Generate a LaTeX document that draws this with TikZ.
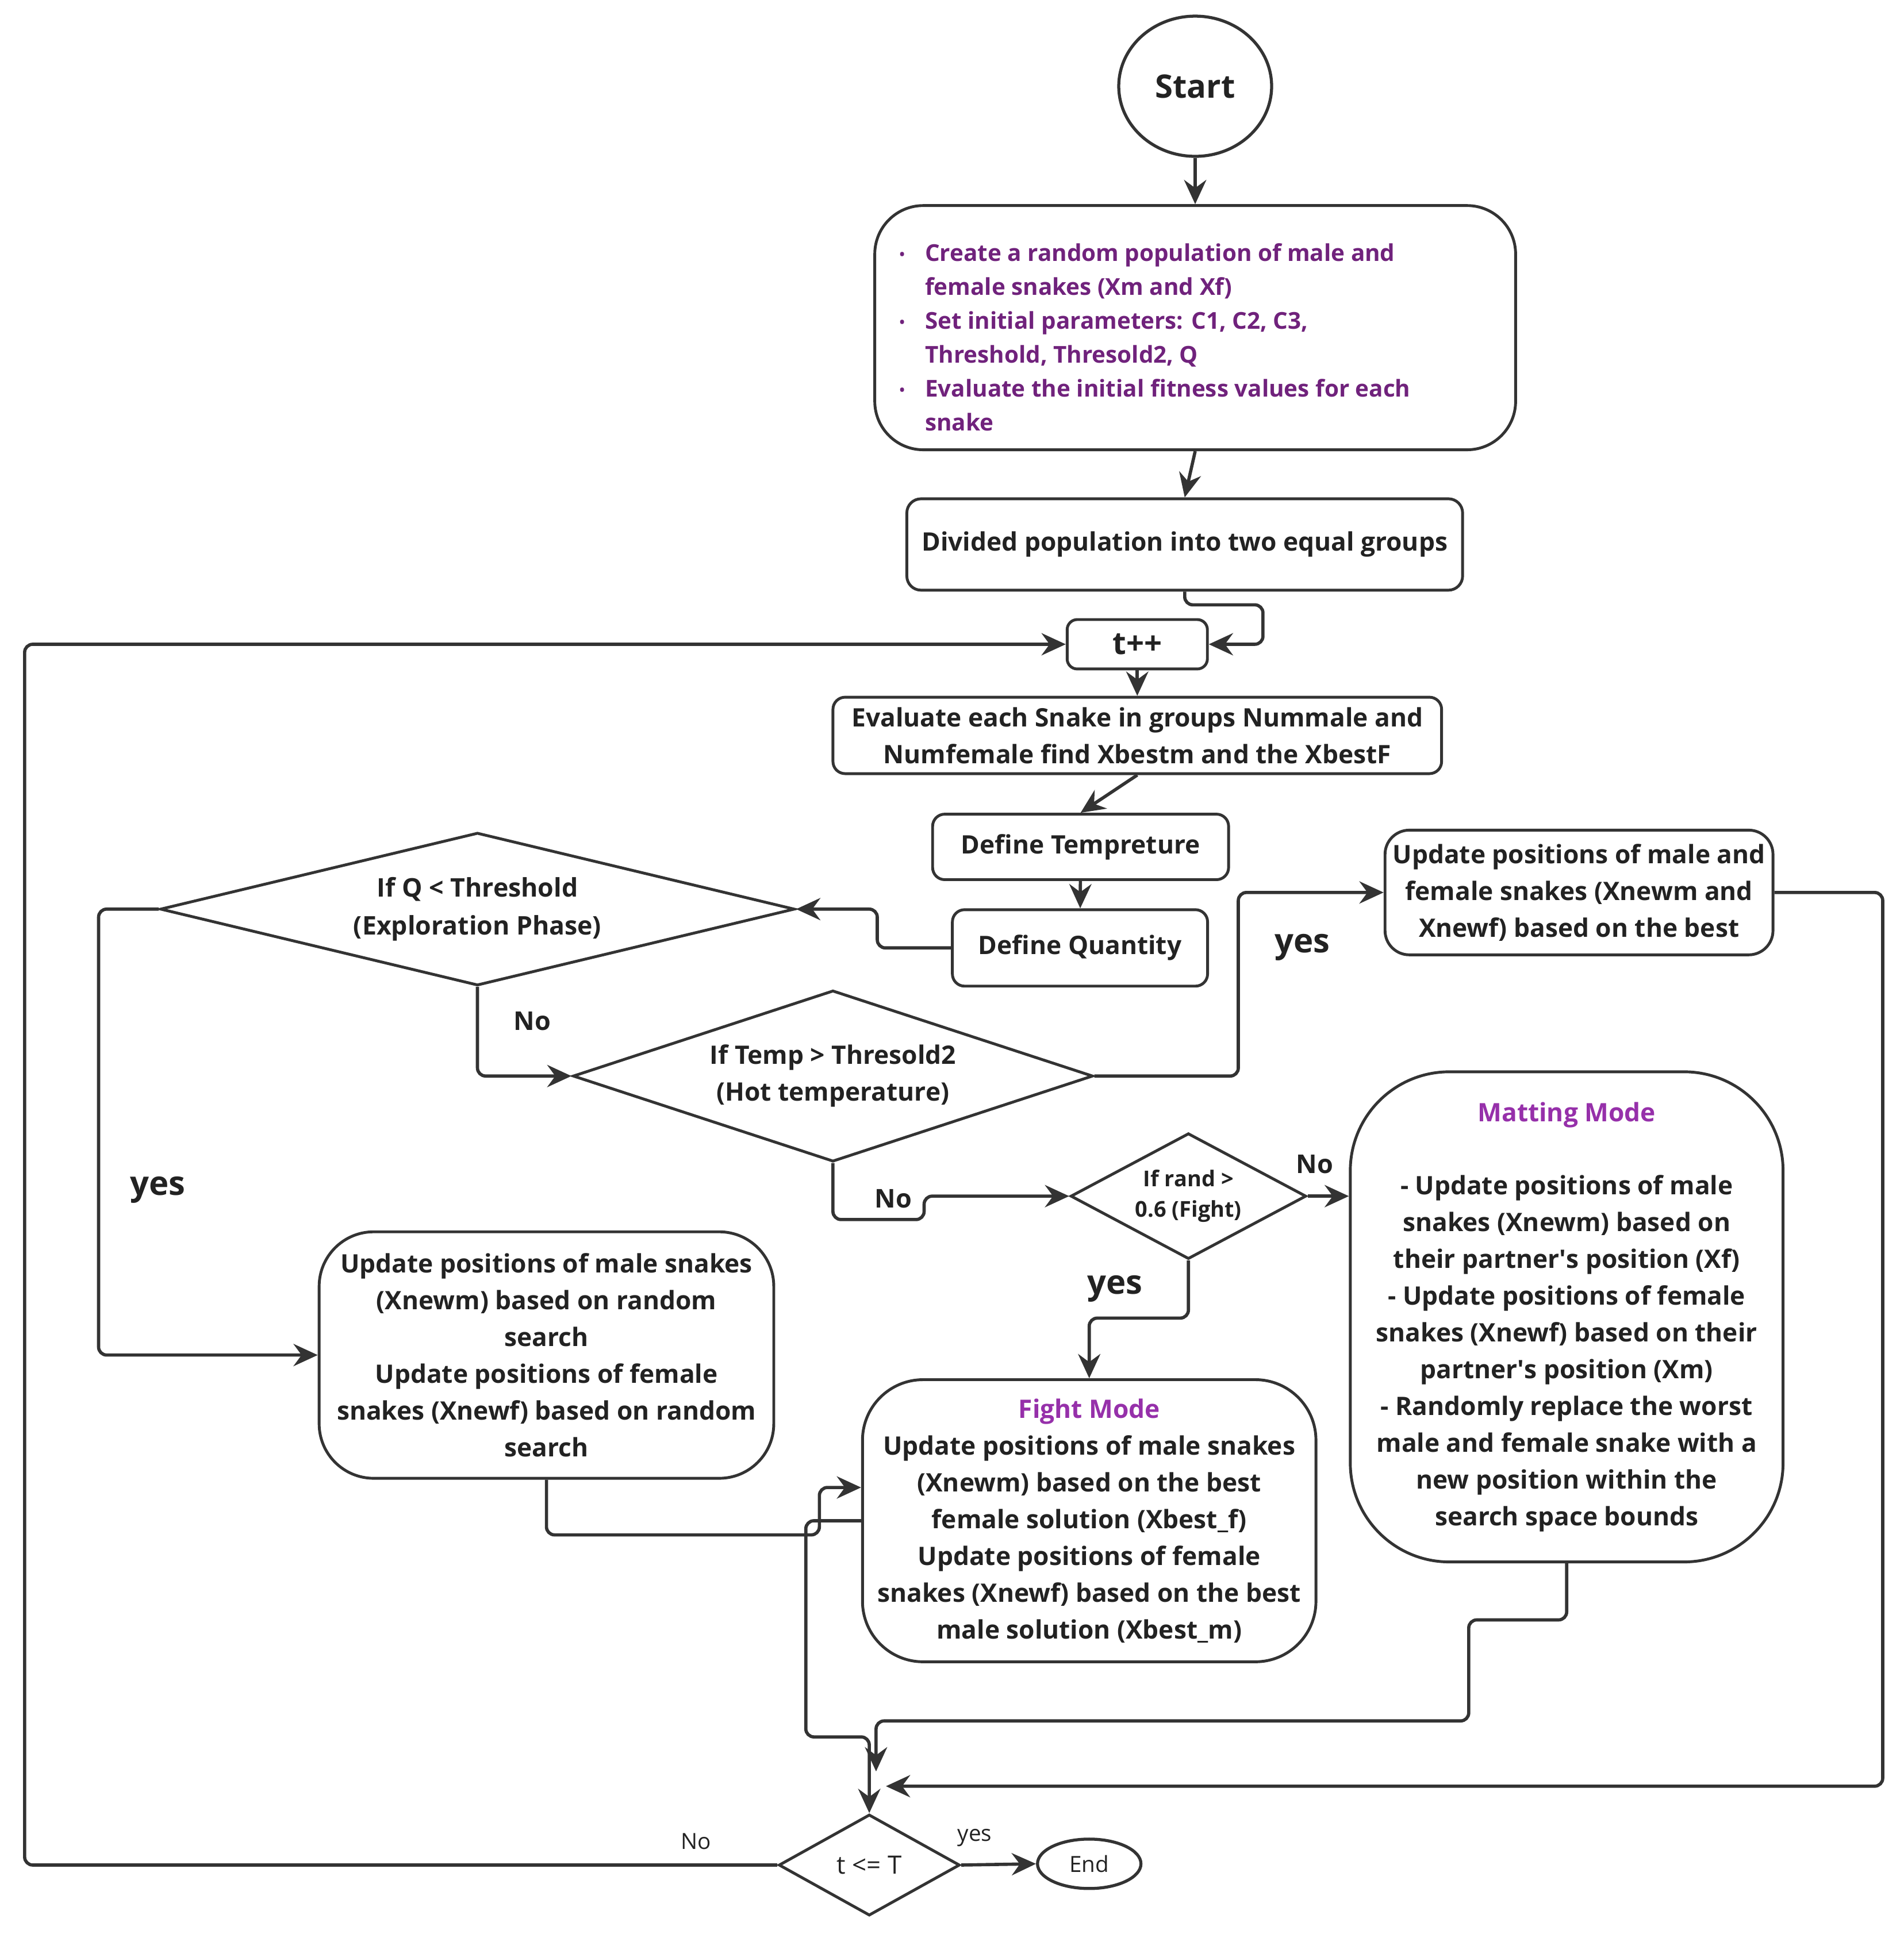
\documentclass[tikz,border=0pt]{standalone}
\usepackage{fontspec}
\setmainfont{Open Sans}
\usetikzlibrary{shapes.geometric,arrows.meta,calc}

\definecolor{lineg}{RGB}{51,51,51}
\definecolor{txtg}{RGB}{34,34,34}
\definecolor{purp}{RGB}{112,34,124}
\definecolor{modep}{RGB}{150,48,170}

\newcommand{\blt}{\makebox[1.1em][l]{\raisebox{0.15ex}{\scriptsize\textbullet}}}

\begin{document}
\begin{tikzpicture}[x=0.02144cm,y=-0.02144cm,
	every node/.style={text=txtg},
	txt/.style={font=\bfseries\fontsize{12.6}{18.2}\selectfont},
	proc/.style={draw=lineg,line width=1.4pt,fill=white,align=center,inner sep=2pt,txt},
	cond/.style={diamond,draw=lineg,line width=1.4pt,align=center,inner sep=0pt,txt},
	arr/.style={draw=lineg,line width=1.6pt,rounded corners=4pt,-{Stealth[length=12pt,width=11pt,inset=4pt]}},
	bigyes/.style={font=\bfseries\fontsize{16.5}{18}\selectfont},
	midno/.style={font=\bfseries\fontsize{12.8}{14}\selectfont},
	smalllab/.style={font=\fontsize{11}{13}\selectfont}]
	\useasboundingbox (0,0) rectangle (1545,1570);

	% start and set-up
	\node[ellipse,draw=lineg,line width=1.5pt,minimum width=2.66cm,minimum height=2.44cm,font=\bfseries\fontsize{16}{18}\selectfont] (start) at (970,70) {Start};
	\node[proc,rounded corners=24pt,minimum width=11.15cm,minimum height=4.25cm,text=purp,font=\bfseries\fontsize{11.5}{16.8}\selectfont] (init) at (970,266)
		{\raisebox{-0.17cm}[\height][\depth]{\parbox{10.29cm}{\raggedright
		 \blt Create a random population of male and\\\hspace*{1.1em}female snakes (Xm and Xf)\\
		 \blt Set initial parameters: C1, C2, C3,\\\hspace*{1.1em}Threshold, Thresold2, Q\\
		 \blt Evaluate the initial fitness values for each\\\hspace*{1.1em}snake}}};
	\node[proc,rounded corners=7pt,minimum width=9.67cm,minimum height=1.59cm] (div) at (961.5,442) {Divided population into two equal groups};
	\node[proc,rounded corners=5pt,minimum width=2.44cm,minimum height=0.86cm,font=\bfseries\fontsize{15.5}{17}\selectfont] (tpp) at (923,523) {t++};
	\node[proc,rounded corners=6pt,minimum width=10.59cm,minimum height=1.33cm] (eval) at (923,597) {Evaluate each Snake in groups Nummale and\\Numfemale find Xbestm and the XbestF};
	\node[proc,rounded corners=6pt,minimum width=5.15cm,minimum height=1.14cm] (temp) at (877,687.5) {Define Tempreture};
	\node[proc,rounded corners=6pt,minimum width=4.44cm,minimum height=1.33cm] (qty) at (876.5,769.5) {Define Quantity};

	% decisions
	\node[cond,aspect=4.15,minimum width=11.04cm,minimum height=2.66cm,font=\bfseries\fontsize{12.7}{19}\selectfont] (dq) at (387.5,738) {If Q < Threshold\\(Exploration Phase)};
	\node[cond,aspect=3.04,minimum width=9.05cm,minimum height=2.98cm] (dt) at (676,873.5) {If Temp > Thresold2\\(Hot temperature)};
	\node[cond,aspect=1.87,minimum width=4.10cm,minimum height=2.19cm,font=\bfseries\fontsize{10.8}{15}\selectfont] (dr) at (964.5,971) {If rand >\\0.6 (Fight)};
	\node[cond,aspect=1.79,minimum width=3.15cm,minimum height=1.76cm,font=\fontsize{12.5}{14}\selectfont] (tt) at (705.5,1514) {t <= T};
	\node[ellipse,draw=lineg,line width=1.5pt,minimum width=1.80cm,minimum height=0.86cm,font=\fontsize{11}{13}\selectfont] (end) at (884,1513) {End};

	% update steps
	\node[proc,rounded corners=12pt,minimum width=6.75cm,minimum height=2.17cm] (best) at (1281.5,724.5) {Update positions of male and\\female snakes (Xnewm and\\Xnewf) based on the best};
	\node[proc,rounded corners=27pt,minimum width=7.91cm,minimum height=4.29cm] (rnd) at (443.5,1100)
		{Update positions of male snakes\\(Xnewm) based on random\\search\\Update positions of female\\snakes (Xnewf) based on random\\search};
	\node[proc,rounded corners=30pt,minimum width=7.89cm,minimum height=4.91cm] (fight) at (884,1234.5)
		{\textcolor{modep}{Fight Mode}\\Update positions of male snakes\\(Xnewm) based on the best\\female solution (Xbest\_f)\\Update positions of female\\snakes (Xnewf) based on the best\\male solution (Xbest\_m)};
	\node[proc,rounded corners=49pt,minimum width=7.53cm,minimum height=8.53cm] (mat) at (1271.5,1069)
		{\textcolor{modep}{Matting Mode}\\[18.2pt]- Update positions of male\\snakes (Xnewm) based on\\their partner\textquotesingle s position (Xf)\\ - Update positions of female\\snakes (Xnewf) based on their\\partner\textquotesingle s position (Xm)\\ - Randomly replace the worst\\male and female snake with a\\new position within the\\search space bounds};

	% branch labels
	\foreach \nm/\px/\py in {yq/128/966, yt/1057/769, yr/905/1046}
		\node[bigyes] (\nm) at (\px,\py) {yes};
	\foreach \nm/\px/\py in {nq/432/829, nt/725/973, nr/1067/945}
		\node[midno] (\nm) at (\px,\py) {No};
	\node[smalllab] (ntt) at (565,1495) {No};
	\node[smalllab] (ytt) at (791,1492) {yes};

	% loose ends near the check
	\coordinate (mj) at (711,1438);
	\coordinate (bj) at (719,1450);

	% connectors
	\draw[arr] (start) -- (init);
	\draw[arr] (init.south) -- (div.north);
	\draw[arr] (div.south) |- (1025,491) |- (tpp.east);
	\draw[arr] (tpp) -- (eval);
	\draw[arr] (eval.south) -- (temp.north);
	\draw[arr] (temp) -- (qty);
	\draw[arr] (qty.west) -- (712,769.5) |- (dq.east);
	\draw[arr] (dq.west) -- (80,738) |- (rnd.west);
	\draw[arr] (dq.south) |- (dt.west);
	\draw[arr] (dt.east) -- (1005,873.5) |- (best.west);
	\draw[arr] (dt.south) |- (750,990) |- (dr.west);
	\draw[arr] (dr.east) -- (mat.west |- dr.east);
	\draw[arr] (dr.south) -- (964.5,1070) -| (fight.north);
	\draw[arr] (rnd.south) |- (665,1246) |- ($(fight.west)+(0,-27)$);
	\draw[arr] (fight.west) -| (654,1410) -| (tt.north);
	\draw[arr] (mat.south) |- (1192,1315) |- (711,1397) -- (mj);
	\draw[arr] (best.east) -- (1528,724.5) |- (bj);
	\draw[arr] (tt.east) -- (end.west);
	\draw[arr] (tt.west) -- (20,1514) |- (tpp.west);
\end{tikzpicture}
\end{document}
